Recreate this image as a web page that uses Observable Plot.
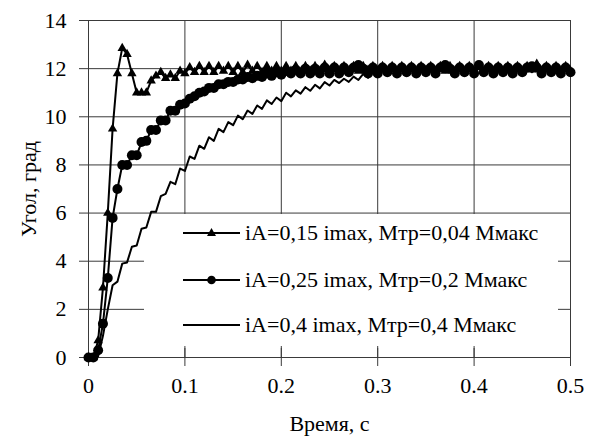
<!DOCTYPE html>
<html>
<head>
<meta charset="utf-8">
<script src="https://cdn.jsdelivr.net/npm/d3@7"></script>
<script src="https://cdn.jsdelivr.net/npm/@observablehq/plot@0.6"></script>
<style>
  html, body { margin: 0; padding: 0; background: #fff; }
  #wrap { width: 592px; height: 446px; }
</style>
</head>
<body>
<div id="wrap"></div>
<script>
// time, s
const time = [0,0.005,0.01,0.015,0.02,0.025,0.03,0.035,0.04,0.045,0.05,0.055,0.06,0.065,0.07,0.075,0.08,0.085,0.09,0.095,
0.1,0.105,0.11,0.115,0.12,0.125,0.13,0.135,0.14,0.145,0.15,0.155,0.16,0.165,0.17,0.175,0.18,0.185,0.19,0.195,
0.2,0.205,0.21,0.215,0.22,0.225,0.23,0.235,0.24,0.245,0.25,0.255,0.26,0.265,0.27,0.275,0.28,0.285,0.29,0.295,
0.3,0.305,0.31,0.315,0.32,0.325,0.33,0.335,0.34,0.345,0.35,0.355,0.36,0.365,0.37,0.375,0.38,0.385,0.39,0.395,
0.4,0.405,0.41,0.415,0.42,0.425,0.43,0.435,0.44,0.445,0.45,0.455,0.46,0.465,0.47,0.475,0.48,0.485,0.49,0.495,0.5];

// iA=0,15 imax, Mтр=0,04 Mмакс (triangles)
const series1 = [0,0,0.7,2.9,6.0,9.5,11.8,12.85,12.6,11.8,11.0,11.0,11.0,11.5,11.7,11.85,11.6,11.75,11.6,11.9,
11.8,12.05,11.85,12.1,11.85,12.1,11.85,12.1,11.9,12.1,11.85,12.1,11.85,12.15,11.9,12.1,11.85,12.1,11.9,12.1,
11.9,12.1,11.9,12.1,11.85,12.1,11.9,12.1,11.9,12.15,11.9,12.1,11.9,12.1,11.9,12.1,11.9,12.1,11.95,12.1,
11.9,12.1,11.9,12.1,11.9,12.1,11.9,12.1,11.9,12.1,11.95,12.1,11.9,12.1,11.9,12.1,11.9,12.1,11.9,12.1,
11.9,12.1,11.9,12.1,11.9,12.1,11.9,12.1,11.9,12.1,11.9,12.1,11.95,12.2,11.9,12.1,11.9,12.1,11.9,12.1,11.9];

// iA=0,25 imax, Mтр=0,2 Mмакс (circles)
const series2 = [0,0,0.3,1.4,3.3,5.8,7.0,8.0,8.0,8.4,8.4,8.95,9.0,9.45,9.45,9.85,9.85,10.25,10.25,10.5,
10.55,10.75,10.85,11.0,11.05,11.2,11.2,11.35,11.35,11.45,11.45,11.55,11.55,11.65,11.6,11.7,11.65,11.8,11.7,11.85,
11.75,11.9,11.8,11.95,11.8,12.0,11.8,12.0,11.8,12.05,11.8,12.05,11.8,12.05,11.85,12.05,12.15,12.0,11.8,12.05,
11.8,12.05,11.85,12.05,11.8,12.05,11.85,12.05,11.8,12.05,11.85,12.05,11.8,12.05,12.15,12.0,11.8,12.05,11.85,12.05,
11.8,12.15,11.85,12.05,11.8,12.05,11.85,12.05,11.8,12.05,11.85,12.05,12.1,12.05,11.8,12.05,11.85,12.05,11.8,12.05,11.85];

// iA=0,4 imax, Mтр=0,4 Mмакс (plain line)
const series3 = [0,0,0.05,0.9,2.0,3.0,3.15,3.9,3.95,4.6,4.65,5.35,5.4,6.05,6.05,6.7,6.8,7.3,7.2,7.85,
7.75,8.35,8.25,8.8,8.67,9.15,9.0,9.5,9.36,9.78,9.65,10.05,9.9,10.26,10.12,10.47,10.33,10.68,10.53,10.8,
10.65,11.0,10.85,11.1,10.96,11.23,11.08,11.33,11.18,11.44,11.3,11.53,11.4,11.58,11.45,11.67,11.53,11.78,11.62,11.84,
11.7,11.9,11.76,11.95,11.8,12.0,11.85,12.0,11.85,12.0,11.85,12.0,11.85,12.0,11.85,12.0,11.85,12.0,11.85,12.0,
11.85,12.0,11.85,12.0,11.85,12.0,11.85,12.0,11.85,12.0,11.85,12.0,11.85,12.0,11.85,12.0,11.85,12.0,11.85,12.0,11.9];

const seriesNames = ["iA=0,15 imax, Mтр=0,04 Mмакс", "iA=0,25 imax, Mтр=0,2 Mмакс", "iA=0,4 imax, Mтр=0,4 Mмакс"];
const xTicks = [0, 0.1, 0.2, 0.3, 0.4, 0.5];
const xTickLabels = ["0", "0.1", "0.2", "0.3", "0.4", "0.5"];
const yTicks = [0, 2, 4, 6, 8, 10, 12, 14];
const yTickLabels = ["0", "2", "4", "6", "8", "10", "12", "14"];
const xTitle = "Время, с";
const yTitle = "Угол, град";

const d1 = time.map((t, i) => ({t, v: series1[i]}));
const d2 = time.map((t, i) => ({t, v: series2[i]}));
const d3s = time.map((t, i) => ({t, v: series3[i]}));
const xLab = new Map(xTicks.map((d, i) => [d, xTickLabels[i]]));
const yLab = new Map(yTicks.map((d, i) => [d, yTickLabels[i]]));

const FONT = "'Liberation Serif', 'Times New Roman', serif";
const grid = "#3a3a3a";
const chart = Plot.plot({
  width: 592,
  height: 446,
  marginTop: 20,
  marginRight: 22,
  marginBottom: 89,
  marginLeft: 88,
  style: {fontFamily: FONT, fontSize: "22px", color: "#000", background: "#fff", overflow: "visible"},
  x: {domain: [0, 0.5]},
  y: {domain: [0, 14]},
  marks: [
    Plot.gridX(xTicks, {stroke: grid, strokeOpacity: 1, strokeWidth: 1}),
    Plot.gridY(yTicks, {stroke: grid, strokeOpacity: 1, strokeWidth: 1}),
    Plot.axisY(yTicks, {tickSize: 9, tickPadding: 13, stroke: grid, tickFormat: d => yLab.get(d),
      label: yTitle, labelAnchor: "center", labelOffset: 68, labelArrow: "none"}),
    Plot.axisX(xTicks, {tickSize: 9, tickPadding: 11, stroke: grid, tickFormat: d => xLab.get(d),
      label: xTitle, labelAnchor: "center", labelOffset: 73, labelArrow: "none"}),
    Plot.axisX(xTicks, {tickSize: -9, stroke: grid, tickFormat: () => "", label: null}),
    Plot.line(d3s, {x: "t", y: "v", stroke: "#000", strokeWidth: 2}),
    Plot.line(d1, {x: "t", y: "v", stroke: "#000", strokeWidth: 2}),
    Plot.dot(d1, {x: "t", y: "v", symbol: "triangle", r: 3.5, fill: "#000", stroke: "none"}),
    Plot.line(d2, {x: "t", y: "v", stroke: "#000", strokeWidth: 2}),
    Plot.dot(d2, {x: "t", y: "v", symbol: "circle", r: 5, fill: "#000", stroke: "none"})
  ]
});

document.getElementById("wrap").appendChild(chart);

// legend: white box inside the plot area, above the grid but under the data
const ns = "http://www.w3.org/2000/svg";
const svgEl = chart.tagName.toLowerCase() === "svg" ? chart : chart.querySelector("svg");
const dataGroups = Array.from(svgEl.children).filter(g => {
  const a = g.getAttribute && g.getAttribute("aria-label");
  return a === "line" || a === "dot";
});
const lg = document.createElementNS(ns, "g");
lg.setAttribute("transform", "translate(144,214)");
lg.setAttribute("text-anchor", "start");
const bg = document.createElementNS(ns, "rect");
bg.setAttribute("x", "0"); bg.setAttribute("y", "0");
bg.setAttribute("width", "414"); bg.setAttribute("height", "132");
bg.setAttribute("style", "fill:#ffffff;stroke:none");
lg.appendChild(bg);
const rowsY = [19, 66, 111];
const markers = ["triangle", "circle", null];
seriesNames.forEach((name, i) => {
  const y = rowsY[i];
  const ln = document.createElementNS(ns, "line");
  ln.setAttribute("x1", 39); ln.setAttribute("x2", 96);
  ln.setAttribute("y1", y); ln.setAttribute("y2", y);
  ln.setAttribute("style", "stroke:#000;stroke-width:2");
  lg.appendChild(ln);
  if (markers[i] === "triangle") {
    const p = document.createElementNS(ns, "path");
    p.setAttribute("d", `M67.5,${y - 5}L72,${y + 3}L63,${y + 3}Z`);
    p.setAttribute("style", "fill:#000");
    lg.appendChild(p);
  } else if (markers[i] === "circle") {
    const c = document.createElementNS(ns, "circle");
    c.setAttribute("cx", 67.5); c.setAttribute("cy", y); c.setAttribute("r", 4.3);
    c.setAttribute("style", "fill:#000");
    lg.appendChild(c);
  }
  const tx = document.createElementNS(ns, "text");
  tx.setAttribute("x", 101); tx.setAttribute("y", y + 7);
  tx.setAttribute("text-anchor", "start");
  tx.setAttribute("style", `font-family:${FONT};font-size:22px;fill:#000`);
  tx.textContent = name;
  lg.appendChild(tx);
});
svgEl.appendChild(lg);
dataGroups.forEach(g => svgEl.appendChild(g));
</script>
</body>
</html>
